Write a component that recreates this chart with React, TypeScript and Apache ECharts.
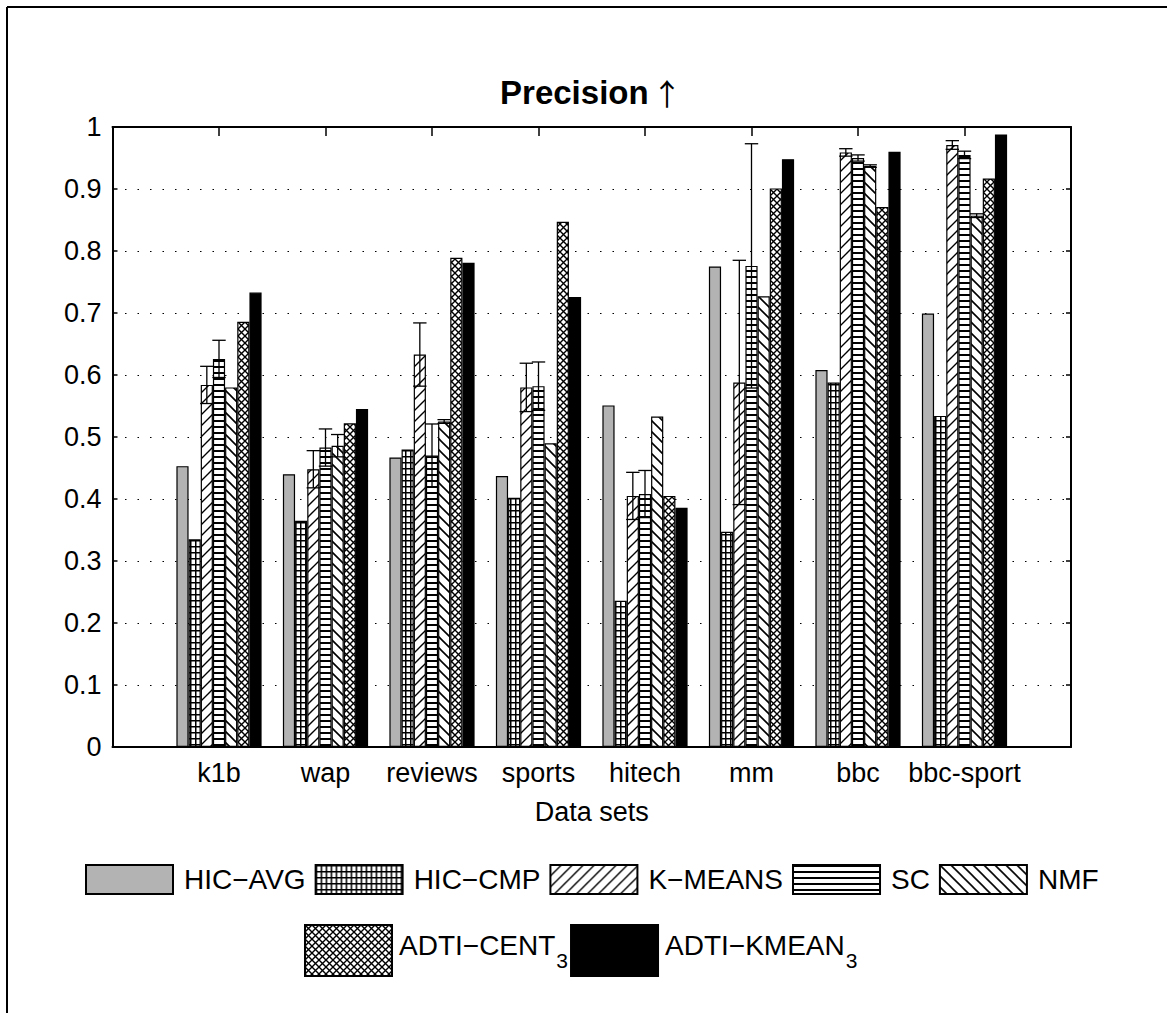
import React, { useEffect, useRef } from 'react';
import * as echarts from 'echarts';

const categories = ['k1b', 'wap', 'reviews', 'sports', 'hitech', 'mm', 'bbc', 'bbc-sport'];
const seriesNames = ['HIC−AVG', 'HIC−CMP', 'K−MEANS', 'SC', 'NMF', 'ADTI−CENT3', 'ADTI−KMEAN3'];
const yTickLabels = ['0', '0.1', '0.2', '0.3', '0.4', '0.5', '0.6', '0.7', '0.8', '0.9', '1'];

const hicAvg = [0.453, 0.440, 0.467, 0.437, 0.551, 0.775, 0.608, 0.699];
const hicCmp = [0.335, 0.365, 0.480, 0.402, 0.236, 0.347, 0.588, 0.534];
const kMeans = [0.584, 0.448, 0.633, 0.580, 0.405, 0.588, 0.959, 0.971];
const sc = [0.626, 0.483, 0.470, 0.582, 0.408, 0.776, 0.950, 0.955];
const nmf = [0.580, 0.486, 0.525, 0.490, 0.533, 0.727, 0.937, 0.857];
const adtiCent = [0.686, 0.522, 0.789, 0.847, 0.405, 0.901, 0.871, 0.917];
const adtiKmean = [0.733, 0.545, 0.781, 0.726, 0.386, 0.948, 0.960, 0.988];

const kMeansErr = [0.030, 0.030, 0.051, 0.039, 0.038, 0.197, 0.006, 0.007];
const scErr = [0.030, 0.030, 0.051, 0.039, 0.038, 0.197, 0.005, 0.006];
const nmfErr = [0, 0.018, 0.003, 0, 0, 0, 0.002, 0.003];

const FONT = '"Liberation Sans", Arial, Helvetica, "DejaVu Sans", sans-serif';

function tile(w: number, h: number, inner: string) {
  const svg = `<svg xmlns="http://www.w3.org/2000/svg" width="${w}" height="${h}"><rect width="${w}" height="${h}" fill="#ffffff"/>${inner}</svg>`;
  return {
    image: 'data:image/svg+xml;charset=utf-8,' + encodeURIComponent(svg),
    repeat: 'repeat',
    imageWidth: w,
    imageHeight: h,
  };
}

const fills: any[] = [
  '#b3b3b3',
  tile(5, 6, '<rect x="0" y="0" width="1.5" height="6" fill="#000"/><rect x="0" y="0" width="5" height="1.5" fill="#000"/>'),
  tile(11, 11, '<path d="M-1 12 L12 -1 M-2 2 L2 -2 M9 13 L13 9" stroke="#000" stroke-width="1.4"/>'),
  tile(6, 6, '<rect x="0" y="0" width="6" height="2" fill="#000"/>'),
  tile(11, 11, '<path d="M-1 -1 L12 12 M-2 9 L2 13 M9 -2 L13 2" stroke="#000" stroke-width="1.6"/>'),
  tile(7, 7, '<path d="M-1 -1 L8 8 M-1 8 L8 -1" stroke="#000" stroke-width="1.4"/>'),
  '#000000',
];

const seriesValues = [hicAvg, hicCmp, kMeans, sc, nmf, adtiCent, adtiKmean];
const axisCats = ['__L', ...categories, '__R'];

export default function App() {
  const ref = useRef<HTMLDivElement>(null);
  useEffect(() => {
    if (!ref.current) return;
    const chart = echarts.init(ref.current, null, { renderer: 'svg' });

    const errData: number[][] = [];
    const errSets: [number[], number[], number][] = [
      [kMeans, kMeansErr, 2],
      [sc, scErr, 3],
      [nmf, nmfErr, 4],
    ];
    errSets.forEach(([vals, errs, s]) => {
      vals.forEach((v, i) => {
        if (errs[i] > 0) errData.push([i + 1, v, errs[i], s]);
      });
    });

    const bars = seriesNames.map((name, i) => ({
      name,
      type: 'bar',
      xAxisIndex: 0,
      yAxisIndex: 0,
      barGap: '0%',
      barCategoryGap: '20%',
      data: ['-', ...seriesValues[i], '-'],
      itemStyle: { color: fills[i], borderColor: '#000', borderWidth: 1.2 },
      emphasis: { disabled: true },
    }));

    const errSeries = {
      type: 'custom',
      xAxisIndex: 0,
      yAxisIndex: 0,
      z: 10,
      encode: { x: 0, y: 1 },
      data: errData,
      renderItem: (params: any, api: any) => {
        const ci = api.value(0);
        const v = api.value(1);
        const e = api.value(2);
        const s = api.value(3);
        const band = api.size([1, 0])[0];
        const c = api.coord([ci, v]);
        const gw = band * 0.8;
        const bw = gw / 7;
        const x = c[0] - gw / 2 + (s + 0.5) * bw;
        const yt = api.coord([ci, v + e])[1];
        const yb = api.coord([ci, v - e])[1];
        const hw = bw * 0.55;
        const st = { stroke: '#000', lineWidth: 1.3 };
        return {
          type: 'group',
          children: [
            { type: 'line', shape: { x1: x, y1: yt, x2: x, y2: yb }, style: st },
            { type: 'line', shape: { x1: x - hw, y1: yt, x2: x + hw, y2: yt }, style: st },
            { type: 'line', shape: { x1: x - hw, y1: yb, x2: x + hw, y2: yb }, style: st },
          ],
        };
      },
    };

    const axisLine = { show: true, onZero: false, lineStyle: { color: '#000', width: 2 } };
    const catLabel = (v: string) => (v.startsWith('__') ? '' : v);

    chart.setOption({
      animation: false,
      grid: { left: 112.5, top: 127, width: 958.5, height: 620, containLabel: false },
      xAxis: [
        {
          type: 'category',
          data: axisCats,
          boundaryGap: false,
          position: 'bottom',
          axisLine,
          axisTick: { show: true, inside: true, length: 9, interval: 0, lineStyle: { color: '#000', width: 1.5 } },
          axisLabel: { interval: 0, formatter: catLabel, fontSize: 27, color: '#000', fontFamily: FONT, margin: 12 },
          splitLine: { show: false },
          name: 'Data sets',
          nameLocation: 'middle',
          nameGap: 51,
          nameTextStyle: { fontSize: 27, color: '#000', fontFamily: FONT },
        },
        {
          type: 'category',
          data: axisCats,
          boundaryGap: false,
          position: 'top',
          axisLine,
          axisTick: { show: true, inside: true, length: 9, interval: 0, lineStyle: { color: '#000', width: 1.5 } },
          axisLabel: { show: false },
          splitLine: { show: false },
        },
      ],
      yAxis: [
        {
          type: 'value',
          min: 0,
          max: 1,
          interval: 0.1,
          position: 'left',
          axisLine,
          axisTick: { show: true, inside: true, length: 5, lineStyle: { color: '#000', width: 1.5 } },
          axisLabel: {
            formatter: (v: number) => yTickLabels[Math.round(v * 10)],
            fontSize: 27,
            color: '#000',
            fontFamily: FONT,
            margin: 11,
          },
          splitLine: { show: true, lineStyle: { color: '#000', width: 1, type: [1.5, 11] } },
        },
        {
          type: 'value',
          min: 0,
          max: 1,
          interval: 0.1,
          position: 'right',
          axisLine,
          axisTick: { show: true, inside: true, length: 5, lineStyle: { color: '#000', width: 1.5 } },
          axisLabel: { show: false },
          splitLine: { show: false },
        },
      ],
      legend: [
        {
          data: seriesNames.slice(0, 5),
          left: 85,
          top: 864,
          padding: 0,
          itemWidth: 87,
          itemHeight: 29,
          itemGap: 9,
          icon: 'rect',
          selectedMode: false,
          textStyle: { fontSize: 28, color: '#000', fontFamily: FONT, padding: [0, 0, 0, 6] },
        },
        {
          data: seriesNames.slice(5),
          left: 304,
          top: 924,
          padding: 0,
          itemWidth: 87,
          itemHeight: 51,
          itemGap: 2,
          icon: 'rect',
          selectedMode: false,
          formatter: (name: string) =>
            name.endsWith('3') ? `{m|${name.slice(0, -1)}}{s|3}` : name,
          textStyle: {
            fontSize: 28,
            color: '#000',
            fontFamily: FONT,
            padding: [0, 0, 0, 2],
            rich: {
              m: { fontSize: 28, color: '#000', fontFamily: FONT, lineHeight: 34, padding: [0, 0, 10, 0] },
              s: { fontSize: 21, color: '#000', fontFamily: FONT, lineHeight: 21, padding: [20, 0, 0, 1] },
            },
          },
        },
      ],
      graphic: [
        {
          type: 'text',
          x: 591,
          y: 92,
          style: {
            text: '{b|Precision} {a|↑}',
            align: 'center',
            verticalAlign: 'middle',
            rich: {
              b: { fontSize: 33, fontWeight: 'bold', fontFamily: FONT, fill: '#000', color: '#000' },
              a: { fontSize: 30, fontFamily: '"Noto Sans CJK JP", "DejaVu Sans", sans-serif', fontWeight: 'normal', fill: '#000', color: '#000' },
            },
          },
        },
        { type: 'line', shape: { x1: 7, y1: 7, x2: 1167, y2: 7 }, style: { stroke: '#000', lineWidth: 2 } },
        { type: 'line', shape: { x1: 7, y1: 7, x2: 7, y2: 1013 }, style: { stroke: '#000', lineWidth: 2 } },
      ],
      series: [...bars, errSeries],
    });

    return () => chart.dispose();
  }, []);

  return (
    <div
      ref={ref}
      style={{ position: 'absolute', left: 0, top: 0, width: 1167, height: 1013, background: '#fff' }}
    />
  );
}
